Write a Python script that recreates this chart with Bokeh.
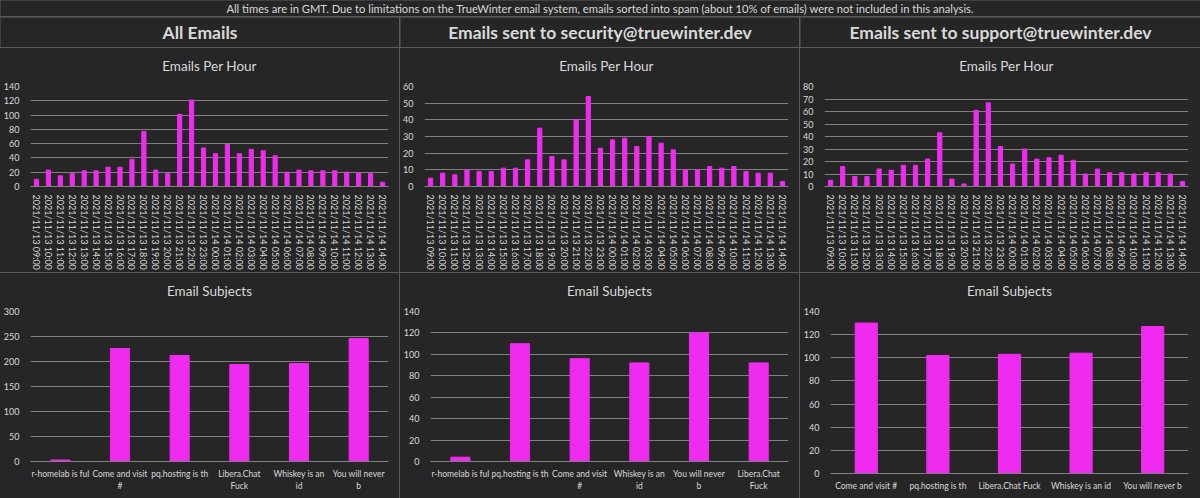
from bokeh.plotting import figure
from bokeh.layouts import column, row
from bokeh.models import Range1d, FactorRange, SingleIntervalTicker
from bokeh.embed import file_html
from bokeh.resources import INLINE
from bokeh.core.properties import value

# ---------------- data ----------------
hours = [
    "2021/11/13 09:00", "2021/11/13 10:00", "2021/11/13 11:00", "2021/11/13 12:00",
    "2021/11/13 13:00", "2021/11/13 14:00", "2021/11/13 15:00", "2021/11/13 16:00",
    "2021/11/13 17:00", "2021/11/13 18:00", "2021/11/13 19:00", "2021/11/13 20:00",
    "2021/11/13 21:00", "2021/11/13 22:00", "2021/11/13 23:00", "2021/11/14 00:00",
    "2021/11/14 01:00", "2021/11/14 02:00", "2021/11/14 03:00", "2021/11/14 04:00",
    "2021/11/14 05:00", "2021/11/14 06:00", "2021/11/14 07:00", "2021/11/14 08:00",
    "2021/11/14 09:00", "2021/11/14 10:00", "2021/11/14 11:00", "2021/11/14 12:00",
    "2021/11/14 13:00", "2021/11/14 14:00",
]
all_per_hour = [10, 23, 15, 18, 22, 22, 27, 27, 38, 77, 23, 18, 101, 121, 54,
                46, 59, 46, 52, 50, 43, 20, 23, 22, 22, 22, 20, 19, 18, 6]
security_per_hour = [5, 8, 7, 10, 9, 9, 11, 11, 16, 35, 18, 16, 40, 54, 23,
                     28, 29, 24, 30, 26, 22, 10, 10, 12, 11, 12, 9, 8, 8, 3]
support_per_hour = [5, 16, 8, 8, 14, 13, 17, 17, 22, 43, 6, 2, 61, 67, 32,
                    18, 30, 22, 23, 25, 21, 10, 14, 11, 11, 10, 11, 11, 10, 4]

all_subjects = ["r-homelab is ful", "Come and visit\n#", "pq.hosting is th",
                "Libera.Chat\nFuck", "Whiskey is an\nid", "You will never\nb"]
all_subject_counts = [3, 226, 212, 194, 196, 246]

security_subjects = ["r-homelab is ful", "pq.hosting is th", "Come and visit\n#",
                     "Whiskey is an\nid", "You will never\nb", "Libera.Chat\nFuck"]
security_subject_counts = [4, 110, 96, 92, 120, 92]

support_subjects = ["Come and visit #", "pq.hosting is th", "Libera.Chat Fuck",
                    "Whiskey is an id", "You will never b"]
support_subject_counts = [130, 102, 103, 104, 127]

banner_text = ("All times are in GMT. Due to limitations on the TrueWinter email system, "
               "emails sorted into spam (about 10% of emails) were not included in this analysis.")
headers = ["All Emails", "Emails sent to security@truewinter.dev",
           "Emails sent to support@truewinter.dev"]
chart_titles = ["Emails Per Hour", "Email Subjects"]

# ---------------- style ----------------
BG = "#262626"
SEP = "#5a5a5a"
BAR = "#EE2BEE"
GRID = "#808080"
TXT = "#d9d9d9"
FONT = "Lato"
TITLE_H = 30


def text_cell(txt, w, h, size, style="normal", ypos=0.5):
    p = figure(width=w, height=h, x_range=(0, 1), y_range=(0, 1),
               x_axis_type=None, y_axis_type=None, toolbar_location=None,
               output_backend="svg", min_border=0)
    p.grid.visible = False
    p.background_fill_color = BG
    p.border_fill_color = BG
    p.outline_line_color = None
    p.text(x=[0.5], y=[ypos], text=[txt], text_align="center", text_baseline="middle",
           text_color=TXT, text_font_size=size, text_font=value(FONT),
           text_font_style=style)
    return p


def bar_chart(title, cats, vals, ymax, step, w, h, left, right, top, bottom,
              bar_w, label_size, vertical=False, xstand=4):
    p = figure(width=w, height=h - TITLE_H, x_range=FactorRange(*cats),
               y_range=Range1d(0, ymax),
               toolbar_location=None, output_backend="svg",
               min_border_left=left, min_border_right=right,
               min_border_top=top - TITLE_H, min_border_bottom=bottom)
    p.vbar(x=cats, top=vals, width=bar_w, color=BAR)
    p.background_fill_color = BG
    p.border_fill_color = BG
    p.outline_line_color = None
    p.xgrid.visible = False
    p.ygrid.grid_line_color = GRID
    p.ygrid.grid_line_width = 1
    p.yaxis.ticker = SingleIntervalTicker(interval=step)
    p.yaxis.axis_line_color = None
    p.yaxis.major_tick_line_color = None
    p.yaxis.minor_tick_line_color = None
    p.yaxis.major_label_text_color = TXT
    p.yaxis.major_label_text_font = FONT
    p.yaxis.major_label_text_font_size = "9px"
    p.yaxis.major_label_standoff = 5
    p.xaxis.axis_line_color = GRID
    p.xaxis.major_tick_line_color = None
    p.xaxis.minor_tick_line_color = None
    p.xaxis.major_label_text_color = TXT
    p.xaxis.major_label_text_font = FONT
    p.xaxis.major_label_text_font_size = label_size
    p.xaxis.major_label_standoff = xstand
    p.x_range.range_padding = 0
    if vertical:
        p.xaxis.major_label_orientation = "vertical"
    t = text_cell(title, w, TITLE_H, "13.5px", ypos=1 - 17 / TITLE_H)
    return column(t, p, spacing=0, styles={"background-color": BG})


banner = text_cell(banner_text, 1200, 16, "11.2px")
h_row = row(
    text_cell(headers[0], 399, 30, "17.5px", "bold"),
    text_cell(headers[1], 399, 30, "17.5px", "bold"),
    text_cell(headers[2], 400, 30, "17.5px", "bold"),
    spacing=1,
)
top_row = row(
    bar_chart(chart_titles[0], hours, all_per_hour, 140, 20, 399, 224, 30, 11, 38, 81,
              0.35, "9px", True, 2),
    bar_chart(chart_titles[0], hours, security_per_hour, 60, 10, 399, 224, 24, 11, 38, 81,
              0.35, "9px", True, 2),
    bar_chart(chart_titles[0], hours, support_per_hour, 80, 10, 400, 224, 24, 12, 38, 81,
              0.35, "9px", True, 2),
    spacing=1,
)
bot_row = row(
    bar_chart(chart_titles[1], all_subjects, all_subject_counts, 300, 50, 399, 225, 30, 11,
              38, 37, 0.32, "8.5px", False, 1),
    bar_chart(chart_titles[1], security_subjects, security_subject_counts, 140, 20, 399, 225,
              30, 11, 38, 37, 0.32, "8.5px", False, 1),
    bar_chart(chart_titles[1], support_subjects, support_subject_counts, 140, 20, 400, 225,
              29, 12, 38, 25, 0.31, "8.5px", False, 1),
    spacing=1,
)

layout = column(banner, h_row, top_row, bot_row, spacing=1,
                styles={"background-color": SEP})

open("out.html", "w").write(file_html(layout, INLINE))
